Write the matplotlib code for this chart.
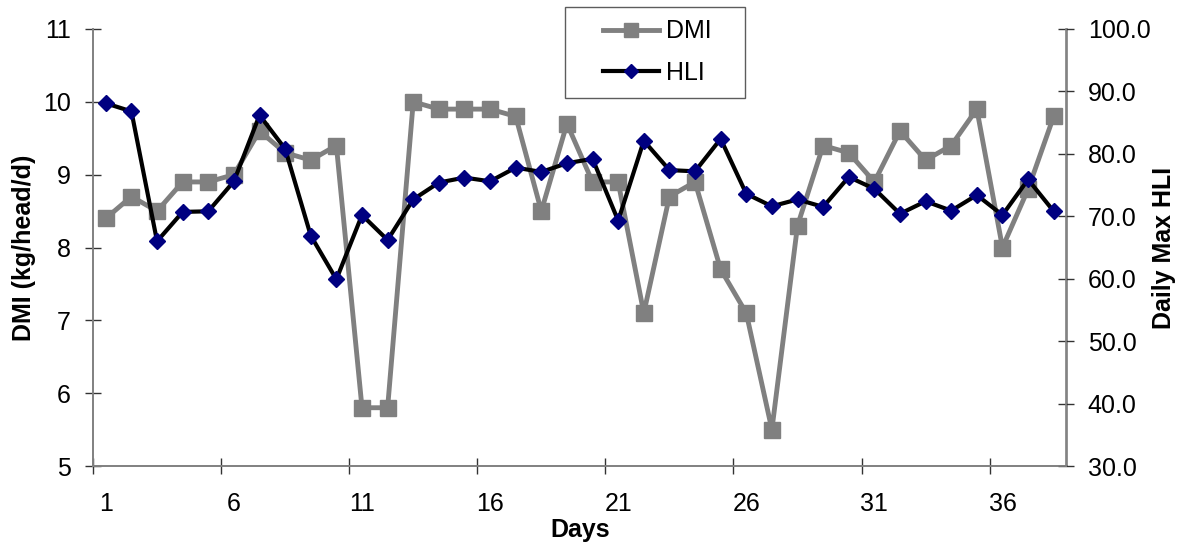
import numpy as np
import matplotlib
matplotlib.use('Agg')
import matplotlib.pyplot as plt
from matplotlib.legend_handler import HandlerLine2D

plt.rcParams['font.family'] = ['Liberation Sans', 'DejaVu Sans']

days = np.arange(1, 39)
dmi = [8.4, 8.7, 8.5, 8.9, 8.9, 9.0, 9.6, 9.3, 9.2, 9.4,
       5.8, 5.8, 10.0, 9.9, 9.9, 9.9, 9.8, 8.5, 9.7, 8.9,
       8.9, 7.1, 8.7, 8.9, 7.7, 7.1, 5.5, 8.3, 9.4, 9.3,
       8.9, 9.6, 9.2, 9.4, 9.9, 8.0, 8.8, 9.8]
hli = [88.1, 86.8, 66.0, 70.7, 70.8, 75.6, 86.2, 80.8, 66.9, 59.9,
       70.2, 66.2, 72.7, 75.4, 76.2, 75.6, 77.8, 77.1, 78.5, 79.2,
       69.3, 82.1, 77.4, 77.2, 82.4, 73.6, 71.6, 72.7, 71.5, 76.3,
       74.4, 70.4, 72.4, 70.9, 73.4, 70.2, 75.9, 70.8]

fig = plt.figure(figsize=(11.89, 5.43), dpi=100)
ax = fig.add_axes([93 / 1189, 1 - 466 / 543, (1066.5 - 93) / 1189, (466 - 29) / 543])
ax2 = ax.twinx()

l1, = ax.plot(days, dmi, color='#808080', lw=3.5, marker='s', markersize=12,
              markeredgecolor='#808080', label='DMI   ')
l2, = ax2.plot(days, hli, color='black', lw=3, marker='D', markersize=8.5,
               markerfacecolor='#000080', markeredgecolor='#000080', label='HLI   ')

ax.set_xlim(0.5, 38.5)
ax.set_ylim(5, 11)
ax2.set_ylim(30, 100)
ax.set_yticks(np.arange(5, 12, 1))
ax2.set_yticks(np.arange(30, 101, 10))
ax2.set_yticklabels(['%.1f' % v for v in np.arange(30, 101, 10)])

# labels sit on the days, tick marks sit between them
ax.set_xticks(np.arange(1, 37, 5))
ax.set_xticks(np.arange(0.5, 36, 5), minor=True)
ax.tick_params(axis='x', which='major', length=0, pad=19, labelsize=18)
ax.tick_params(axis='x', which='minor', length=11, direction='inout', width=1, color='#333333')
ax.tick_params(axis='y', direction='inout', length=11.5, width=1, pad=10, labelsize=18, color='#333333')
ax2.tick_params(axis='y', direction='inout', length=11.5, width=1, pad=9.5, labelsize=18, color='#333333')

for a in (ax, ax2):
    a.spines['top'].set_visible(False)
    for s in ('left', 'right', 'bottom'):
        a.spines[s].set_color('#808080')
        a.spines[s].set_linewidth(1.2)

ax.set_xlabel('Days', fontsize=18, fontweight='bold', labelpad=1)
ax.set_ylabel('DMI (kg/head/d)', fontsize=18, fontweight='bold', labelpad=5.5)
ax2.set_ylabel('Daily Max HLI', fontsize=18, fontweight='bold', labelpad=1)

hmap = {l1: HandlerLine2D(xpad=1.0, marker_pad=0.3), l2: HandlerLine2D(xpad=1.0, marker_pad=0.3)}
leg = fig.legend(handles=[l1, l2], loc='upper left', bbox_to_anchor=(565 / 1189, 1 - 7 / 543),
                 borderaxespad=0, fontsize=18, frameon=True, fancybox=False,
                 handlelength=3.25, labelspacing=0.7, borderpad=0.5, handletextpad=0.3,
                 handler_map=hmap, markerscale=0.8)
leg.get_frame().set_edgecolor('#333333')
leg.get_frame().set_linewidth(1)

plt.savefig('out.png', dpi=100)
